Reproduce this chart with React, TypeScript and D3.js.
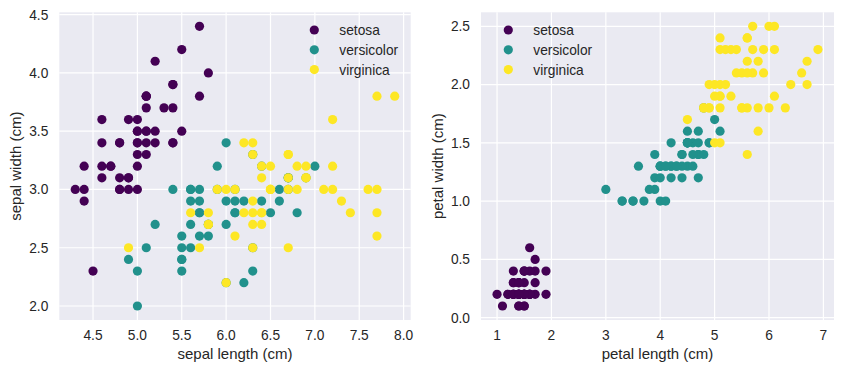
import React, { useEffect, useRef } from "react";
import * as d3 from "d3";

// iris data, one entry per flower
const sepalLength = [
  5.1, 4.9, 4.7, 4.6, 5.0, 5.4, 4.6, 5.0, 4.4, 4.9, 5.4, 4.8, 4.8, 4.3, 5.8, 5.7, 5.4, 5.1, 5.7, 5.1, 5.4, 5.1, 4.6, 5.1, 4.8,
  5.0, 5.0, 5.2, 5.2, 4.7, 4.8, 5.4, 5.2, 5.5, 4.9, 5.0, 5.5, 4.9, 4.4, 5.1, 5.0, 4.5, 4.4, 5.0, 5.1, 4.8, 5.1, 4.6, 5.3, 5.0,
  7.0, 6.4, 6.9, 5.5, 6.5, 5.7, 6.3, 4.9, 6.6, 5.2, 5.0, 5.9, 6.0, 6.1, 5.6, 6.7, 5.6, 5.8, 6.2, 5.6, 5.9, 6.1, 6.3, 6.1, 6.4,
  6.6, 6.8, 6.7, 6.0, 5.7, 5.5, 5.5, 5.8, 6.0, 5.4, 6.0, 6.7, 6.3, 5.6, 5.5, 5.5, 6.1, 5.8, 5.0, 5.6, 5.7, 5.7, 6.2, 5.1, 5.7,
  6.3, 5.8, 7.1, 6.3, 6.5, 7.6, 4.9, 7.3, 6.7, 7.2, 6.5, 6.4, 6.8, 5.7, 5.8, 6.4, 6.5, 7.7, 7.7, 6.0, 6.9, 5.6, 7.7, 6.3, 6.7,
  7.2, 6.2, 6.1, 6.4, 7.2, 7.4, 7.9, 6.4, 6.3, 6.1, 7.7, 6.3, 6.4, 6.0, 6.9, 6.7, 6.9, 5.8, 6.8, 6.7, 6.7, 6.3, 6.5, 6.2, 5.9,
];
const sepalWidth = [
  3.5, 3.0, 3.2, 3.1, 3.6, 3.9, 3.4, 3.4, 2.9, 3.1, 3.7, 3.4, 3.0, 3.0, 4.0, 4.4, 3.9, 3.5, 3.8, 3.8, 3.4, 3.7, 3.6, 3.3, 3.4,
  3.0, 3.4, 3.5, 3.4, 3.2, 3.1, 3.4, 4.1, 4.2, 3.1, 3.2, 3.5, 3.6, 3.0, 3.4, 3.5, 2.3, 3.2, 3.5, 3.8, 3.0, 3.8, 3.2, 3.7, 3.3,
  3.2, 3.2, 3.1, 2.3, 2.8, 2.8, 3.3, 2.4, 2.9, 2.7, 2.0, 3.0, 2.2, 2.9, 2.9, 3.1, 3.0, 2.7, 2.2, 2.5, 3.2, 2.8, 2.5, 2.8, 2.9,
  3.0, 2.8, 3.0, 2.9, 2.6, 2.4, 2.4, 2.7, 2.7, 3.0, 3.4, 3.1, 2.3, 3.0, 2.5, 2.6, 3.0, 2.6, 2.3, 2.7, 3.0, 2.9, 2.9, 2.5, 2.8,
  3.3, 2.7, 3.0, 2.9, 3.0, 3.0, 2.5, 2.9, 2.5, 3.6, 3.2, 2.7, 3.0, 2.5, 2.8, 3.2, 3.0, 3.8, 2.6, 2.2, 3.2, 2.8, 2.8, 2.7, 3.3,
  3.2, 2.8, 3.0, 2.8, 3.0, 2.8, 3.8, 2.8, 2.8, 2.6, 3.0, 3.4, 3.1, 3.0, 3.1, 3.1, 3.1, 2.7, 3.2, 3.3, 3.0, 2.5, 3.0, 3.4, 3.0,
];
const petalLength = [
  1.4, 1.4, 1.3, 1.5, 1.4, 1.7, 1.4, 1.5, 1.4, 1.5, 1.5, 1.6, 1.4, 1.1, 1.2, 1.5, 1.3, 1.4, 1.7, 1.5, 1.7, 1.5, 1.0, 1.7, 1.9,
  1.6, 1.6, 1.5, 1.4, 1.6, 1.6, 1.5, 1.5, 1.4, 1.5, 1.2, 1.3, 1.4, 1.3, 1.5, 1.3, 1.3, 1.3, 1.6, 1.9, 1.4, 1.6, 1.4, 1.5, 1.4,
  4.7, 4.5, 4.9, 4.0, 4.6, 4.5, 4.7, 3.3, 4.6, 3.9, 3.5, 4.2, 4.0, 4.7, 3.6, 4.4, 4.5, 4.1, 4.5, 3.9, 4.8, 4.0, 4.9, 4.7, 4.3,
  4.4, 4.8, 5.0, 4.5, 3.5, 3.8, 3.7, 3.9, 5.1, 4.5, 4.5, 4.7, 4.4, 4.1, 4.0, 4.4, 4.6, 4.0, 3.3, 4.2, 4.2, 4.2, 4.3, 3.0, 4.1,
  6.0, 5.1, 5.9, 5.6, 5.8, 6.6, 4.5, 6.3, 5.8, 6.1, 5.1, 5.3, 5.5, 5.0, 5.1, 5.3, 5.5, 6.7, 6.9, 5.0, 5.7, 4.9, 6.7, 4.9, 5.7,
  6.0, 4.8, 4.9, 5.6, 5.8, 6.1, 6.4, 5.6, 5.1, 5.6, 6.1, 5.6, 5.5, 4.8, 5.4, 5.6, 5.1, 5.1, 5.9, 5.7, 5.2, 5.0, 5.2, 5.4, 5.1,
];
const petalWidth = [
  0.2, 0.2, 0.2, 0.2, 0.2, 0.4, 0.3, 0.2, 0.2, 0.1, 0.2, 0.2, 0.1, 0.1, 0.2, 0.4, 0.4, 0.3, 0.3, 0.3, 0.2, 0.4, 0.2, 0.5, 0.2,
  0.2, 0.4, 0.2, 0.2, 0.2, 0.2, 0.4, 0.1, 0.2, 0.2, 0.2, 0.2, 0.1, 0.2, 0.2, 0.3, 0.3, 0.2, 0.6, 0.4, 0.3, 0.2, 0.2, 0.2, 0.2,
  1.4, 1.5, 1.5, 1.3, 1.5, 1.3, 1.6, 1.0, 1.3, 1.4, 1.0, 1.5, 1.0, 1.4, 1.3, 1.4, 1.5, 1.0, 1.5, 1.1, 1.8, 1.3, 1.5, 1.2, 1.3,
  1.4, 1.4, 1.7, 1.5, 1.0, 1.1, 1.0, 1.2, 1.6, 1.5, 1.6, 1.5, 1.3, 1.3, 1.3, 1.2, 1.4, 1.2, 1.0, 1.3, 1.2, 1.3, 1.3, 1.1, 1.3,
  2.5, 1.9, 2.1, 1.8, 2.2, 2.1, 1.7, 1.8, 1.8, 2.5, 2.0, 1.9, 2.1, 2.0, 2.4, 2.3, 1.8, 2.2, 2.3, 1.5, 2.3, 2.0, 2.0, 1.8, 2.1,
  1.8, 1.8, 1.8, 2.1, 1.6, 1.9, 2.0, 2.2, 1.5, 1.4, 2.3, 2.4, 1.8, 1.8, 2.1, 2.4, 2.3, 1.9, 2.3, 2.5, 2.3, 1.9, 2.0, 2.3, 1.8,
];
const target = [
  0, 0, 0, 0, 0, 0, 0, 0, 0, 0, 0, 0, 0, 0, 0, 0, 0, 0, 0, 0, 0, 0, 0, 0, 0,
  0, 0, 0, 0, 0, 0, 0, 0, 0, 0, 0, 0, 0, 0, 0, 0, 0, 0, 0, 0, 0, 0, 0, 0, 0,
  1, 1, 1, 1, 1, 1, 1, 1, 1, 1, 1, 1, 1, 1, 1, 1, 1, 1, 1, 1, 1, 1, 1, 1, 1,
  1, 1, 1, 1, 1, 1, 1, 1, 1, 1, 1, 1, 1, 1, 1, 1, 1, 1, 1, 1, 1, 1, 1, 1, 1,
  2, 2, 2, 2, 2, 2, 2, 2, 2, 2, 2, 2, 2, 2, 2, 2, 2, 2, 2, 2, 2, 2, 2, 2, 2,
  2, 2, 2, 2, 2, 2, 2, 2, 2, 2, 2, 2, 2, 2, 2, 2, 2, 2, 2, 2, 2, 2, 2, 2, 2,
];
const speciesNames = ["setosa", "versicolor", "virginica"];
const speciesColors = ["#440154", "#21918c", "#fde725"];

const sepalXTicks = [4.5, 5.0, 5.5, 6.0, 6.5, 7.0, 7.5, 8.0];
const sepalYTicks = [2.0, 2.5, 3.0, 3.5, 4.0, 4.5];
const petalXTicks = [1, 2, 3, 4, 5, 6, 7];
const petalYTicks = [0.0, 0.5, 1.0, 1.5, 2.0, 2.5];

const W = 843, H = 371;
const FONT = "'Liberation Sans', Arial, sans-serif";
const TXT = "#262626";
const TICK_SIZE = 13.75;
const LABEL_SIZE = 15;

function pad(v: number[]) {
  const lo = d3.min(v)!, hi = d3.max(v)!;
  const p = (hi - lo) * 0.05;
  return [lo - p, hi + p];
}

function drawPanel(svg: any, opt: any) {
  const { left, right, top, bottom, xs, ys, xTicks, yTicks, xFmt, yFmt, xLabel, yLabel, legendX } = opt;
  const x = d3.scaleLinear().domain(pad(xs)).range([left, right]);
  const y = d3.scaleLinear().domain(pad(ys)).range([bottom, top]);
  const g = svg.append("g");

  g.append("rect").attr("x", left).attr("y", top).attr("width", right - left).attr("height", bottom - top).attr("fill", "#eaeaf2");

  g.selectAll(".gx").data(xTicks).enter().append("line")
    .attr("x1", (d: number) => x(d)).attr("x2", (d: number) => x(d))
    .attr("y1", top).attr("y2", bottom)
    .attr("stroke", "#fff").attr("stroke-width", 1.2);
  g.selectAll(".gy").data(yTicks).enter().append("line")
    .attr("y1", (d: number) => y(d)).attr("y2", (d: number) => y(d))
    .attr("x1", left).attr("x2", right)
    .attr("stroke", "#fff").attr("stroke-width", 1.2);

  g.selectAll(".tx").data(xTicks).enter().append("text")
    .attr("x", (d: number) => x(d)).attr("y", bottom + 20)
    .attr("text-anchor", "middle").attr("font-family", FONT).attr("font-size", TICK_SIZE).attr("fill", TXT)
    .text((d: number) => d3.format(xFmt)(d));
  g.selectAll(".ty").data(yTicks).enter().append("text")
    .attr("x", left - 11).attr("y", (d: number) => y(d) + 4.9)
    .attr("text-anchor", "end").attr("font-family", FONT).attr("font-size", TICK_SIZE).attr("fill", TXT)
    .text((d: number) => d3.format(yFmt)(d));

  g.append("text").attr("x", (left + right) / 2).attr("y", bottom + 38.5)
    .attr("text-anchor", "middle").attr("font-family", FONT).attr("font-size", LABEL_SIZE).attr("fill", TXT)
    .text(xLabel);
  g.append("text").attr("transform", `translate(${left - 38},${(top + bottom) / 2}) rotate(-90)`)
    .attr("text-anchor", "middle").attr("font-family", FONT).attr("font-size", LABEL_SIZE).attr("fill", TXT)
    .text(yLabel);

  g.selectAll(".dot").data(target.map((t, i) => i)).enter().append("circle")
    .attr("cx", (i: number) => x(xs[i])).attr("cy", (i: number) => y(ys[i]))
    .attr("r", 4.6)
    .attr("fill", (i: number) => speciesColors[target[i]]);

  const lg = g.append("g");
  speciesNames.forEach((name, k) => {
    const yy = 30 + k * 19.8;
    lg.append("circle").attr("cx", legendX).attr("cy", yy).attr("r", 4.6).attr("fill", speciesColors[k]);
    lg.append("text").attr("x", legendX + 25).attr("y", yy + 5)
      .attr("font-family", FONT).attr("font-size", TICK_SIZE).attr("fill", TXT).text(name);
  });
}

export default function App() {
  const node = useRef<SVGSVGElement>(null);

  useEffect(() => {
    document.body.style.margin = "0";
    const svg = d3.select(node.current);
    svg.selectAll("*").remove();
    drawPanel(svg, {
      left: 59.3, right: 410.7, top: 12.3, bottom: 320,
      xs: sepalLength, ys: sepalWidth, xTicks: sepalXTicks, yTicks: sepalYTicks,
      xFmt: ".1f", yFmt: ".1f", xLabel: "sepal length (cm)", yLabel: "sepal width (cm)", legendX: 314.3,
    });
    drawPanel(svg, {
      left: 481, right: 834, top: 12.3, bottom: 320,
      xs: petalLength, ys: petalWidth, xTicks: petalXTicks, yTicks: petalYTicks,
      xFmt: "d", yFmt: ".1f", xLabel: "petal length (cm)", yLabel: "petal width (cm)", legendX: 508.3,
    });
  }, []);

  return <svg ref={node} width={W} height={H} style={{ display: "block", background: "#fff" }} />;
}
